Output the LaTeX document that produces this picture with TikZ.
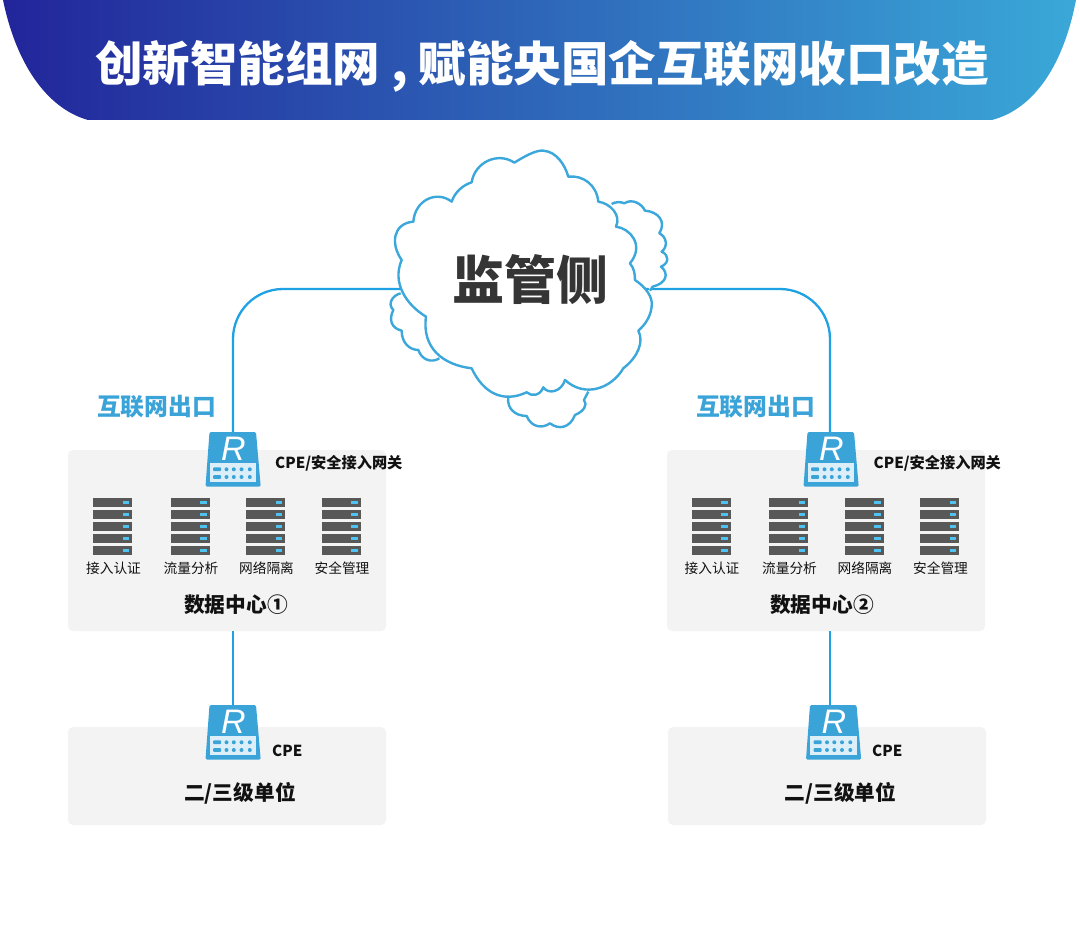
\documentclass[tikz,border=0pt]{standalone}
\usepackage{fontspec}
\setmainfont{Noto Sans CJK SC}
\newfontfamily\rfont{Liberation Sans}
\definecolor{skyline}{HTML}{1FA2E3}
\definecolor{cloudline}{HTML}{3BA7DB}
\definecolor{routerblue}{HTML}{3AA3D8}
\definecolor{panel}{HTML}{DCEFF8}
\definecolor{zone}{HTML}{F3F3F3}
\definecolor{slab}{HTML}{585858}
\definecolor{led}{HTML}{4FC3F0}
\definecolor{ink}{HTML}{111111}
\tikzset{
  zonebox/.style={fill=zone,rounded corners=5pt,inner sep=0pt},
  routerbox/.style={minimum width=55pt,minimum height=55pt,inner sep=0pt},
  link/.style={draw=skyline,line width=2.3pt},
  cloudframe/.style={xshift=380pt,yshift=-140pt,x=.3333pt,y=-.3333pt},
  cloudpath/.style={draw=cloudline,line width=2.4pt,fill=white,line join=round},
  exitlabel/.style={font=\fontsize{23.8}{24}\selectfont\bfseries,text=routerblue,inner sep=0pt},
  gatelabel/.style={font=\fontsize{15.2}{16}\selectfont\bfseries,text=ink,inner sep=0pt,anchor=west},
  racklabel/.style={font=\fontsize{13.7}{14}\selectfont,text=ink,inner sep=0pt},
  zonelabel/.style={font=\fontsize{20.7}{21}\selectfont\bfseries,text=ink,inner sep=0pt},
}
% router icon: name, x, y
\newcommand{\routericon}[3]{
  \node[routerbox] (#1) at (#2,#3) {};
  \begin{scope}[shift={(#2,#3)}]
    \fill[routerblue,rounded corners=1.5pt] (-23.5,-27.5) -- (23,-27.5) -- (27.7,27.2) -- (-27.5,27.2) -- cycle;
    \fill[panel] (-23.5,3.8) rectangle (23,22.8);
    \node[text=white,inner sep=0pt,font=\rfont\itshape\fontsize{34}{34}\selectfont] (#1R) at (0.5,-10.5) {R};
    \foreach \yy in {9.8,17.5} {
      \fill[routerblue,rounded corners=1pt] (-20,\yy-1.9) rectangle (-11.8,\yy+1.9);
      \foreach \xx in {-6.5,0.8,8.5,16.8}
        \fill[routerblue] (\xx,\yy) circle (2pt);
    }
  \end{scope}
}
% server stack: name, x, y
\newcommand{\rackicon}[3]{
  \begin{scope}[shift={(#2,#3)}]
    \foreach \yy in {0,12,24,36,48} {
      \fill[slab] (0,\yy) rectangle (39,\yy+9);
      \fill[led] (29.5,\yy+3) rectangle (36,\yy+6);
    }
    \coordinate (#1) at (19.5,70.5);
  \end{scope}
}

\begin{document}
\begin{tikzpicture}[x=1pt,y=-1pt]
  \useasboundingbox (0,0) rectangle (1080,931);
  % banner
  \shade[left color={rgb,255:red,34;green,37;blue,154},middle color={rgb,255:red,46;green,100;blue,184},right color={rgb,255:red,58;green,168;blue,216}]
    (3,0) .. controls (18,72) and (52,110) .. (88,120) -- (992,120) .. controls (1030,110) and (1062,72) .. (1076,0) -- cycle;
  \node[text=white,inner sep=0pt,font=\fontsize{47.5}{48}\selectfont\bfseries] (title) at (542,66) {创新智能组网 , 赋能央国企互联网收口改造};

  % zones
  \node[zonebox,minimum width=318pt,minimum height=181pt] (dcA) at (227,540.5) {};
  \node[zonebox,minimum width=318pt,minimum height=181pt] (dcB) at (826,540.5) {};
  \node[zonebox,minimum width=318pt,minimum height=98pt] (unitA) at (227,776) {};
  \node[zonebox,minimum width=318pt,minimum height=98pt] (unitB) at (827,776) {};

  % routers
  \routericon{gateA}{233}{459.5}
  \routericon{gateB}{831}{459.5}
  \routericon{cpeA}{233}{732.5}
  \routericon{cpeB}{833.5}{732.5}

  % server stacks
  \foreach \rk/\xa/\xb/\txt in {1/93/691.5/接入认证,2/170.5/769/流量分析,3/246/844.5/网络隔离,4/321.5/920/安全管理} {
    \rackicon{rackA\rk}{\xa}{498}
    \rackicon{rackB\rk}{\xb}{498}
    \node[racklabel] (rackAtxt\rk) at ([xshift=1pt]rackA\rk) {\txt};
    \node[racklabel] (rackBtxt\rk) at ([xshift=1pt]rackB\rk) {\txt};
  }

  % links
  \coordinate (cloudL) at (410,289);
  \coordinate (cloudR) at (645,289);
  \coordinate (tapB) at (830,705);
  \draw[link,rounded corners=50pt] (gateA.north) |- (cloudL);
  \draw[link,rounded corners=50pt] (tapB |- gateB.north) |- (cloudR);
  \draw[link] (dcA.south -| gateA.north) -- (cpeA.north);
  \draw[link] (tapB |- dcB.south) -- (tapB);

  \begin{scope}[cloudframe]
    % clouds behind
    \draw[cloudpath] (695,192) .. controls (705,185) and (725,185) .. (733,190) .. controls (755,175) and (785,190) .. (795,212) .. controls (835,215) and (860,245) .. (838,280) .. controls (860,290) and (865,320) .. (845,335) .. controls (868,345) and (868,370) .. (843,380) .. controls (868,400) and (860,430) .. (818,440) -- (810,452);
    \draw[cloudpath] (62,460) .. controls (40,465) and (20,490) .. (40,510) .. controls (25,540) and (35,565) .. (65,572) .. controls (65,610) and (90,630) .. (115,630) .. controls (125,660) and (155,670) .. (178,655);
    \draw[cloudpath] (385,772) .. controls (380,805) and (405,828) .. (440,828) .. controls (455,865) and (490,865) .. (510,850) .. controls (535,870) and (570,865) .. (585,825) .. controls (610,815) and (625,795) .. (612,780) -- (625,755);
    % main cloud
    \draw[cloudpath] (403,68) .. controls (440,45) and (470,30) .. (490,32) .. controls (530,35) and (555,75) .. (565,110)
      .. controls (610,105) and (650,135) .. (655,185) .. controls (690,190) and (725,225) .. (708,260)
      .. controls (750,265) and (795,315) .. (750,370) .. controls (762,385) and (765,400) .. (765,420)
      .. controls (795,440) and (820,470) .. (815,500) .. controls (812,530) and (795,555) .. (775,572)
      .. controls (792,605) and (775,650) .. (730,685) .. controls (695,745) and (615,775) .. (555,720)
      .. controls (545,755) and (505,765) .. (490,742) .. controls (480,768) and (455,770) .. (440,757)
      .. controls (370,790) and (310,760) .. (275,685) .. controls (190,675) and (125,625) .. (138,530)
      .. controls (80,495) and (35,430) .. (65,360) .. controls (30,310) and (40,250) .. (100,245)
      .. controls (105,180) and (170,150) .. (215,185) .. controls (225,155) and (250,135) .. (275,127)
      .. controls (285,65) and (355,35) .. (403,68) -- cycle;
  \end{scope}
  \node[inner sep=0pt,text=ink!85,font=\fontsize{52}{52}\selectfont\bfseries] (monitor) at (530,280) {监管侧};

  % labels
  \node[exitlabel] (exitA) at (156.5,406.5) {互联网出口};
  \node[exitlabel] (exitB) at (755.5,406.5) {互联网出口};
  \node[gatelabel] (gatetxtA) at (275,463) {CPE/安全接入网关};
  \node[gatelabel] (gatetxtB) at (873.5,463) {CPE/安全接入网关};
  \node[gatelabel] (cpetxtA) at (272,751) {CPE};
  \node[gatelabel] (cpetxtB) at (872,751) {CPE};
  \node[zonelabel] (dctxtA) at (236,605) {数据中心①};
  \node[zonelabel] (dctxtB) at (822,605) {数据中心②};
  \node[zonelabel] (unittxtA) at (240,793) {二/三级单位};
  \node[zonelabel] (unittxtB) at (840.5,793) {二/三级单位};
\end{tikzpicture}
\end{document}
